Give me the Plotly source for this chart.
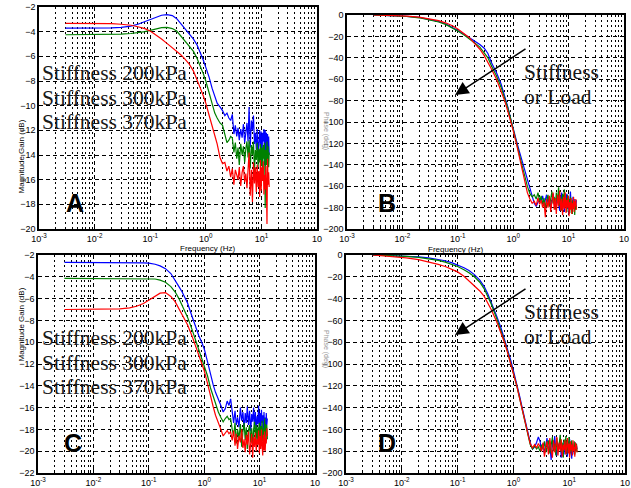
import plotly.graph_objects as go

W, H = 631, 488

# ---------------- data ----------------
freq = [0.003, 0.005, 0.008, 0.012, 0.02, 0.03, 0.045, 0.06, 0.08, 0.1, 0.13, 0.16, 0.2, 0.25, 0.3,
        0.35, 0.4, 0.5, 0.6, 0.7, 0.8, 0.9, 1.0, 1.15, 1.3, 1.45, 1.6, 1.8,
        2.0, 2.2, 2.4, 2.6, 2.8, 3.0, 3.2, 3.4, 3.6, 3.8, 4.0, 4.25, 4.5, 4.75, 5.0, 5.25, 5.5, 5.75,
        6.0, 6.3, 6.6, 6.9, 7.2, 7.5, 7.8, 8.1, 8.4, 8.7, 9.0, 9.3, 9.6, 9.9, 10.2, 10.5, 10.8, 11.1,
        11.4, 11.7, 12.0, 12.3, 12.6, 12.9, 13.2, 13.5, 13.8]

# Panel A - magnitude (dB)
a_blue = [-3.72, -3.72, -3.72, -3.72, -3.70, -3.65, -3.55, -3.40, -3.20, -3.00, -2.80, -2.67, -2.62, -2.70, -2.95,
          -3.30, -3.65, -4.10, -4.60, -5.10, -5.70, -6.30, -6.90, -7.70, -8.60, -9.30, -9.80, -10.10,
          -10.4, -10.8, -10.6, -11.0, -11.2, -10.7, -12.3, -11.6, -12.5, -11.8, -12.8, -11.9, -12.6, -11.5, -13.0, -12.2, -11.4, -12.9,
          -10.1, -13.4, -11.2, -12.0, -10.8, -13.1, -12.2, -13.6, -11.9, -14.1, -12.4, -12.0, -13.3, -12.1, -14.5, -12.2, -12.9, -11.9,
          -14.8, -12.0, -13.6, -12.2, -14.2, -12.3, -13.8, -12.5, -14.0]
a_green = [-4.25, -4.25, -4.25, -4.24, -4.22, -4.20, -4.15, -4.10, -4.00, -3.90, -3.75, -3.68, -3.65, -3.75, -3.95,
           -4.30, -4.60, -5.10, -5.60, -6.20, -6.80, -7.40, -8.00, -9.00, -9.90, -10.60, -11.00, -11.40,
           -11.6, -12.4, -13.0, -12.8, -12.5, -12.6, -13.8, -13.0, -14.3, -13.4, -14.8, -13.1, -14.0, -13.3, -14.6, -13.5, -12.9, -14.2,
           -12.8, -15.1, -13.2, -14.0, -12.9, -15.4, -13.6, -14.4, -13.0, -15.0, -13.5, -14.6, -13.1, -14.9, -13.4, -15.6, -13.2, -14.3,
           -13.0, -18.3, -13.6, -14.8, -12.9, -14.5, -13.3, -15.0, -13.8]
a_red = [-3.32, -3.32, -3.32, -3.33, -3.35, -3.40, -3.48, -3.60, -3.75, -3.95, -4.30, -4.60, -4.95, -5.30, -5.55,
         -5.85, -6.10, -6.60, -7.20, -7.90, -8.60, -9.20, -9.80, -10.80, -11.70, -12.40, -13.10, -14.20,
         -14.7, -14.6, -15.3, -14.9, -15.8, -15.1, -16.4, -15.2, -15.6, -16.0, -15.0, -16.5, -15.4, -14.9, -16.2, -15.5, -16.7, -14.7,
         -13.8, -17.3, -15.2, -17.8, -14.6, -16.3, -15.0, -17.0, -14.8, -16.6, -15.3, -17.4, -14.4, -16.9, -15.0, -16.1, -14.5, -17.2,
         -15.6, -16.8, -14.9, -16.5, -19.6, -14.3, -16.4, -15.4, -16.6]

# Panel B - phase (deg)
b_blue = [0, -0.3, -0.7, -1.2, -2.3, -3.8, -6.0, -8.2, -11.5, -14.5, -18.0, -21.0, -24.5, -27.5, -31.0,
          -36, -44, -54, -64, -75, -86, -97, -107, -118, -128, -137, -145, -154,
          -163, -170, -176, -179, -175, -171, -174, -169, -178, -172, -168, -176, -170, -181, -173, -167, -177, -171,
          -180, -169, -175, -183, -172, -166, -178, -174, -184, -170, -176, -167, -181, -173, -186, -171, -165, -178,
          -174, -183, -170, -177, -172, -181, -175, -179, -173]
b_green = [0, -0.3, -0.8, -1.4, -2.6, -4.2, -6.5, -8.8, -12.0, -15.0, -18.8, -22.0, -26.0, -30.0, -35.0,
           -40, -47, -57, -67, -77, -87, -97, -106, -119, -131, -141, -150, -160,
           -167, -170, -168, -172, -166, -174, -169, -177, -171, -180, -174, -168, -179, -172, -165, -176, -170, -182,
           -166, -175, -161, -178, -170, -183, -167, -176, -163, -179, -171, -184, -168, -177, -172, -185, -170, -180,
           -175, -186, -173, -181, -176, -187, -174, -182, -178]
b_red = [0, -0.3, -0.6, -1.0, -2.0, -3.3, -5.3, -7.3, -10.0, -13.0, -17.0, -21.0, -26.5, -32.0, -38.0,
         -44, -50, -60, -70, -80, -90, -99, -108, -121, -134, -145, -155, -166,
         -172, -176, -174, -178, -171, -177, -173, -180, -175, -189, -172, -180, -169, -184, -174, -166, -182, -171,
         -186, -168, -179, -164, -183, -172, -187, -170, -181, -166, -185, -173, -180, -169, -188, -175, -182, -171,
         -186, -176, -181, -170, -184, -174, -179, -172, -182]

# Panel C - magnitude (dB)
c_blue = [-2.68, -2.68, -2.68, -2.68, -2.68, -2.69, -2.70, -2.71, -2.73, -2.75, -2.85, -3.00, -3.25, -3.70, -4.30,
          -4.90, -5.40, -6.40, -7.60, -8.60, -9.40, -10.0, -10.6, -11.8, -13.0, -13.9, -14.6, -15.2,
          -15.8, -16.4, -16.1, -15.4, -15.8, -15.2, -16.6, -17.4, -16.3, -17.6, -16.9, -17.8, -16.0, -17.2, -16.4, -18.0, -16.5, -17.4,
          -15.9, -17.6, -16.3, -18.2, -16.6, -17.3, -16.0, -17.8, -16.4, -18.4, -16.8, -17.5, -15.8, -17.9, -16.5, -18.1, -16.2, -17.4,
          -16.7, -18.3, -16.4, -17.7, -16.9, -18.0, -16.5, -17.6, -17.0]
c_green = [-4.15, -4.15, -4.15, -4.15, -4.15, -4.15, -4.15, -4.15, -4.15, -4.15, -4.20, -4.30, -4.50, -4.90, -5.40,
           -6.00, -6.60, -7.70, -8.80, -9.80, -10.6, -11.3, -12.0, -13.1, -14.2, -15.0, -15.7, -16.4,
           -16.9, -17.3, -17.0, -16.8, -17.1, -17.0, -18.0, -18.6, -17.4, -19.3, -18.0, -18.8, -17.5, -19.6, -18.2, -17.4, -19.0, -17.8,
           -19.8, -18.1, -17.6, -19.2, -17.9, -19.5, -18.0, -17.3, -18.9, -17.6, -19.4, -17.8, -18.6, -17.4, -19.0, -17.7, -18.8, -17.2,
           -19.1, -17.9, -18.5, -17.0, -18.9, -17.5, -18.2, -17.6, -18.9]
c_red = [-7.00, -7.00, -7.00, -7.00, -6.98, -6.95, -6.85, -6.70, -6.45, -6.15, -5.75, -5.50, -5.45, -5.80, -6.30,
         -6.90, -7.40, -8.40, -9.40, -10.4, -11.2, -11.9, -12.6, -13.8, -15.0, -15.9, -16.7, -17.5,
         -18.0, -18.6, -18.3, -18.1, -18.4, -18.2, -19.0, -18.1, -19.5, -18.4, -19.8, -18.6, -19.2, -18.0, -19.7, -18.9, -20.1, -18.5,
         -19.4, -18.2, -20.3, -19.0, -18.4, -20.6, -18.7, -19.6, -18.3, -20.0, -18.9, -19.4, -18.1, -20.2, -18.6, -19.8, -18.0, -19.5,
         -20.4, -18.5, -19.9, -18.2, -20.0, -18.8, -19.3, -17.9, -18.6]

# Panel D - phase (deg)
d_blue = [0, -0.3, -0.6, -1.0, -1.7, -2.6, -4.0, -5.3, -7.2, -9.0, -11.7, -14.3, -18.0, -23.0, -29.0,
          -36, -43, -56, -67, -78, -88, -97, -106, -118, -130, -141, -151, -162,
          -172, -178, -176, -172, -167, -171, -179, -173, -182, -175, -168, -180, -174, -188, -172, -177, -166, -179,
          -184, -173, -178, -169, -186, -175, -180, -171, -183, -176, -172, -185, -174, -179, -169, -182, -176, -187,
          -173, -180, -175, -183, -177, -172, -180, -175, -178]
d_green = [0, -0.4, -0.8, -1.3, -2.2, -3.3, -5.0, -6.5, -8.6, -10.6, -13.5, -16.2, -20.0, -25.0, -31.0,
           -38, -45, -58, -69, -80, -90, -99, -108, -120, -132, -143, -153, -164,
           -174, -178, -175, -178, -176, -180, -174, -178, -171, -181, -176, -170, -182, -175, -167, -180, -173, -184,
           -168, -179, -174, -165, -181, -172, -186, -169, -178, -166, -183, -171, -179, -167, -184, -173, -180, -170,
           -182, -175, -179, -171, -183, -176, -179, -173, -181]
d_red = [0, -0.8, -1.7, -2.7, -4.3, -6.2, -8.6, -10.6, -13.2, -15.5, -19.5, -23.5, -28.0, -33.0, -38.0,
         -44, -50, -61, -71, -81, -91, -100, -108, -120, -132, -143, -153, -163,
         -173, -177, -174, -177, -173, -176, -180, -172, -185, -177, -171, -183, -168, -179, -186, -170, -181, -175,
         -167, -184, -172, -180, -169, -185, -174, -179, -170, -183, -176, -168, -182, -173, -186, -171, -179, -174,
         -184, -170, -180, -176, -185, -172, -178, -174, -181]

xtick_vals = [0.001, 0.01, 0.1, 1, 10, 100]
xtick_text = ["10<sup>-3</sup>", "10<sup>-2</sup>", "10<sup>-1</sup>", "10<sup>0</sup>", "10<sup>1</sup>", "10"]
minor_vals = [m * d for d in [0.001, 0.01, 0.1, 1, 10] for m in [2, 3, 4, 5, 6, 7, 8, 9]]
mag_ticks_a = [-20, -18, -16, -14, -12, -10, -8, -6, -4, -2]
mag_ticks_c = [-22, -20, -18, -16, -14, -12, -10, -8, -6, -4, -2]
phase_ticks = [-200, -180, -160, -140, -120, -100, -80, -60, -40, -20, 0]
series_names = ["Stiffness 200kPa", "Stiffness 300kPa", "Stiffness 370kPa"]
colors = ["#0000ff", "#008000", "#ff0000"]

# ---------------- figure ----------------
def pxx(x):
    return x / W

def pxy(y):
    return 1 - y / H

fig = go.Figure()

panels = [
    ("x", "y", [a_blue, a_green, a_red]),
    ("x2", "y2", [b_blue, b_green, b_red]),
    ("x3", "y3", [c_blue, c_green, c_red]),
    ("x4", "y4", [d_blue, d_green, d_red]),
]
for xa, ya, curves in panels:
    for name, col, vals in zip(series_names, colors, curves):
        fig.add_trace(go.Scatter(x=freq, y=vals, mode="lines", xaxis=xa, yaxis=ya,
                                 line=dict(color=col, width=1.2), name=name, showlegend=False))

tickfont = dict(family="Liberation Sans, Arial, sans-serif", size=9, color="black")

def xax(domain, anchor):
    return dict(type="log", range=[-3, 2], domain=domain, anchor=anchor, automargin=False,
                tickvals=xtick_vals, ticktext=xtick_text, tickfont=tickfont,
                showline=True, mirror=True, linecolor="black", linewidth=1.5,
                ticks="inside", ticklen=4, tickcolor="black",
                showgrid=True, gridcolor="black", gridwidth=1, griddash="4px,3px",
                minor=dict(tickvals=minor_vals, showgrid=True, gridcolor="black", gridwidth=1,
                           griddash="2px,3px", ticks="inside", ticklen=2, tickcolor="black"),
                zeroline=False)

def yax(domain, anchor, rng, tv):
    return dict(range=rng, domain=domain, anchor=anchor, tickvals=tv, tickfont=tickfont,
                automargin=False,
                showline=True, mirror=True, linecolor="black", linewidth=1.5,
                ticks="inside", ticklen=4, tickcolor="black",
                showgrid=True, gridcolor="black", gridwidth=1, griddash="4px,3px",
                zeroline=False)

fig.update_layout(
    width=W, height=H, margin=dict(l=0, r=0, t=0, b=0, autoexpand=False),
    paper_bgcolor="white", plot_bgcolor="white",
    xaxis=xax([pxx(39), pxx(317)], "y"),
    yaxis=yax([pxy(229), pxy(7)], "x", [-20, -2], mag_ticks_a),
    xaxis2=xax([pxx(347), pxx(624)], "y2"),
    yaxis2=yax([pxy(229), pxy(15)], "x2", [-200, 0], phase_ticks),
    xaxis3=xax([pxx(38), pxx(315)], "y3"),
    yaxis3=yax([pxy(473), pxy(255)], "x3", [-22, -2], mag_ticks_c),
    xaxis4=xax([pxx(346), pxx(625)], "y4"),
    yaxis4=yax([pxy(473), pxy(255)], "x4", [-200, 0], phase_ticks),
)

ann = []
serif = dict(family="Liberation Serif, Times New Roman, serif", size=21.5, color="#1a1a1a")
letter = dict(family="Liberation Sans, Arial, sans-serif", size=25, color="black")
small = dict(family="Liberation Sans, Arial, sans-serif", size=8, color="black")

# stiffness labels
for i, name in enumerate(series_names):
    ann.append(dict(x=pxx(40), y=pxy(73 + 24.5 * i), text=name, font=serif, showarrow=False,
                    xanchor="left", yanchor="middle", xref="paper", yref="paper"))
    ann.append(dict(x=pxx(40), y=pxy(338 + 24.5 * i), text=name, font=serif, showarrow=False,
                    xanchor="left", yanchor="middle", xref="paper", yref="paper"))

# panel letters
for t, x, y in [("<b>A</b>", 75, 203), ("<b>B</b>", 387, 203), ("<b>C</b>", 73, 443), ("<b>D</b>", 387, 443)]:
    ann.append(dict(x=pxx(x), y=pxy(y), text=t, font=letter, showarrow=False,
                    xanchor="center", yanchor="middle", xref="paper", yref="paper"))

# "Stiffness or Load" with arrows
for dy in [0, 240]:
    ann.append(dict(x=pxx(522), y=pxy(72 + dy), text="Stiffness", font=serif, showarrow=False,
                    xanchor="left", yanchor="middle", xref="paper", yref="paper"))
    ann.append(dict(x=pxx(522), y=pxy(97 + dy), text="or Load", font=serif, showarrow=False,
                    xanchor="left", yanchor="middle", xref="paper", yref="paper"))
    ann.append(dict(x=pxx(455), y=pxy(95 + dy), xref="paper", yref="paper", text="",
                    showarrow=True, ax=72, ay=-47, axref="pixel", ayref="pixel",
                    arrowhead=2, arrowsize=1.8, arrowwidth=1.5, arrowcolor="black"))

# axis titles
ann.append(dict(x=pxx(14), y=pxy(118), text="Magnitude Gain (dB)", font=small, textangle=-90,
                showarrow=False, xref="paper", yref="paper"))
ann.append(dict(x=pxx(14), y=pxy(364), text="Magnitude Gain (dB)", font=small, textangle=-90,
                showarrow=False, xref="paper", yref="paper"))
ann.append(dict(x=pxx(178), y=pxy(248), text="Frequency (Hz)", font=small,
                showarrow=False, xref="paper", yref="paper"))
ann.append(dict(x=pxx(485), y=pxy(249), text="Frequency (Hz)", font=small,
                showarrow=False, xref="paper", yref="paper"))
faint = dict(family="Liberation Sans, Arial, sans-serif", size=7, color="#999999")
ann.append(dict(x=pxx(326), y=pxy(110), text="Phase (deg)", font=faint, textangle=90,
                showarrow=False, xref="paper", yref="paper"))
ann.append(dict(x=pxx(326), y=pxy(370), text="Phase (deg)", font=faint, textangle=90,
                showarrow=False, xref="paper", yref="paper"))

fig.update_layout(annotations=ann)
fig.write_html("out.html", config={"displayModeBar": False},
               post_script="document.body.style.margin='0';document.body.style.padding='0';")
